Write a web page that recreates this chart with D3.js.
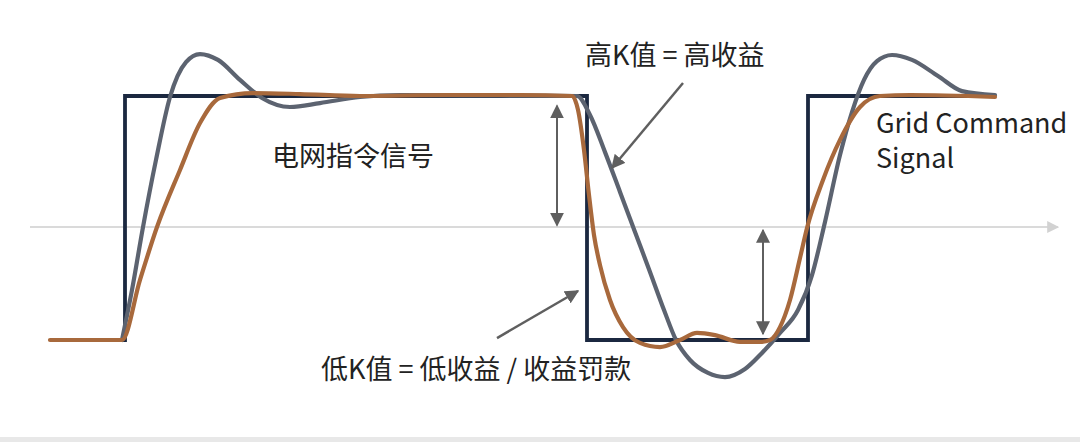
<!DOCTYPE html>
<html>
<head>
<meta charset="utf-8">
<script src="https://cdn.jsdelivr.net/npm/d3@7"></script>
<style>
  body { margin: 0; background: #fff; }
  #my_dataviz svg { display: block; }
</style>
</head>
<body>
<div id="my_dataviz"></div>
<script>
// grid command signal (step), t in time units, v in % of command
const commandT = [0, 7.5, 53.7, 75.8, 94.5];
const commandV = [0, 100, 0, 100, 100];

// high K response (fast, overshoot)
const highKT = [7.2, 8.2, 9.3, 10.6, 12, 13.6, 15, 16.8, 19, 21.2, 24, 27, 31, 35, 45,
  52.7, 54, 55.5, 57, 58.5, 60, 61.4, 62.6, 64, 65.8, 67.5, 69.5, 71.2, 73, 74.8,
  76.2, 77.5, 79, 80.2, 81.4, 82.7, 84.2, 86.2, 88.8, 91.2, 94.5];
const highKV = [0, 20.5, 46.3, 73.8, 99.6, 113.9, 117.2, 114.8, 106.6, 99.2, 95.5, 97.1, 99.6, 100.4, 100.2,
  100, 92.2, 77, 60.7, 44.3, 27.9, 12.3, 0, -8.2, -13.5, -15.2, -11.9, -5.3, 2.9, 12.3,
  26.6, 48.4, 75.8, 93.4, 106.6, 114.3, 116.8, 114.8, 108.2, 102, 100.4];

// low K response (slow, lagging)
const lowKT = [0, 7.2, 9, 10.7, 13, 15, 17, 20.3, 25, 31, 40, 47, 52.2, 52.8, 53.4, 53.9,
  54.4, 55, 56, 57.3, 59, 61, 63, 64.7, 66.5, 69, 71, 72, 73, 74, 75, 75.7,
  77.3, 79, 81, 83, 86, 94.5];
const lowKV = [0, 0, 24.6, 46.3, 69.7, 88.9, 99.2, 101.2, 100.8, 100, 100.4, 100.4, 100, 94.3, 77.9, 59.4,
  43, 30.7, 16.4, 5.3, -1.2, -2.9, 0, 2.9, 2, -0.8, -0.8, 0, 5.3, 16.4, 33.6, 45.9,
  65.6, 82, 95.5, 100, 100.4, 99.6];

const axisLevel = 46.3;
const labels = ["高K值 = 高收益", "电网指令信号", "低K值 = 低收益 / 收益罚款", "Grid Command", "Signal"];

function makeChart() {
  const width = 1080, height = 442;

  const svg = d3.select("#my_dataviz")
    .html(null)
    .append("svg")
    .attr("width", width)
    .attr("height", height);

  // scales
  const x = d3.scaleLinear().domain([0, 95]).range([50, 1000]);
  const y = d3.scaleLinear().domain([0, 100]).range([340, 96]);

  const defs = svg.append("defs");
  function marker(id, color, w, h) {
    defs.append("marker")
      .attr("id", id)
      .attr("viewBox", "0 0 10 10")
      .attr("refX", 9).attr("refY", 5)
      .attr("markerUnits", "userSpaceOnUse")
      .attr("markerWidth", w).attr("markerHeight", h)
      .attr("orient", "auto-start-reverse")
      .append("path")
      .attr("d", "M0,0 L10,5 L0,10 Z")
      .attr("fill", color);
  }
  marker("axisHead", "#d2d2d2", 12, 14);
  marker("grayHead", "#5f5f5f", 14, 14);

  // bottom band
  svg.append("rect")
    .attr("x", 0).attr("y", 437)
    .attr("width", width).attr("height", 5)
    .attr("fill", "#e8e8e8");

  // time axis
  svg.append("line")
    .attr("x1", x(-2)).attr("x2", x(100.8))
    .attr("y1", y(axisLevel)).attr("y2", y(axisLevel))
    .attr("stroke", "#dadada")
    .attr("stroke-width", 2)
    .attr("marker-end", "url(#axisHead)");

  // command step
  const stepLine = d3.line()
    .x(d => x(d[0])).y(d => y(d[1]))
    .curve(d3.curveStepAfter);
  svg.append("path")
    .datum(d3.zip(commandT, commandV))
    .attr("d", stepLine)
    .attr("fill", "none")
    .attr("stroke", "#1b2840")
    .attr("stroke-width", 3.8)
    .attr("stroke-linejoin", "miter");

  const smooth = d3.line()
    .x(d => x(d[0])).y(d => y(d[1]))
    .curve(d3.curveMonotoneX);

  svg.append("path")
    .datum(d3.zip(highKT, highKV))
    .attr("d", smooth)
    .attr("fill", "none")
    .attr("stroke", "#5c6370")
    .attr("stroke-width", 4.2)
    .attr("stroke-linecap", "round");

  svg.append("path")
    .datum(d3.zip(lowKT, lowKV))
    .attr("d", smooth)
    .attr("fill", "none")
    .attr("stroke", "#a8693c")
    .attr("stroke-width", 4.2)
    .attr("stroke-linecap", "round");

  // double arrows showing deviation
  function dblArrow(t, v1, v2) {
    svg.append("line")
      .attr("x1", x(t)).attr("x2", x(t))
      .attr("y1", y(v1)).attr("y2", y(v2))
      .attr("stroke", "#5f5f5f")
      .attr("stroke-width", 2)
      .attr("marker-start", "url(#grayHead)")
      .attr("marker-end", "url(#grayHead)");
  }
  dblArrow(50.7, 96, 47);
  dblArrow(71.3, 45, 2.5);

  // pointer arrows
  function pointer(t1, v1, t2, v2) {
    svg.append("line")
      .attr("x1", x(t1)).attr("y1", y(v1))
      .attr("x2", x(t2)).attr("y2", y(v2))
      .attr("stroke", "#5f5f5f")
      .attr("stroke-width", 2.5)
      .attr("marker-end", "url(#grayHead)");
  }
  pointer(63.3, 105.3, 56.2, 70.5);
  pointer(44.7, 0.8, 52.8, 20.1);

  // labels
  const cjk = "'Noto Sans CJK SC', sans-serif";
  svg.append("text").attr("x", 585).attr("y", 65).text(labels[0])
    .style("font-family", cjk).style("font-size", "27px").style("fill", "#222");
  svg.append("text").attr("x", 272).attr("y", 166).text(labels[1])
    .style("font-family", cjk).style("font-size", "27px").style("fill", "#222");
  svg.append("text").attr("x", 321).attr("y", 379).text(labels[2])
    .style("font-family", cjk).style("font-size", "27px").style("fill", "#222");
  svg.append("text").attr("x", 876).attr("y", 133).text(labels[3])
    .style("font-family", cjk).style("font-size", "27px").style("fill", "#222");
  svg.append("text").attr("x", 876).attr("y", 168).text(labels[4])
    .style("font-family", cjk).style("font-size", "27px").style("fill", "#222");
}

makeChart();
</script>
</body>
</html>
